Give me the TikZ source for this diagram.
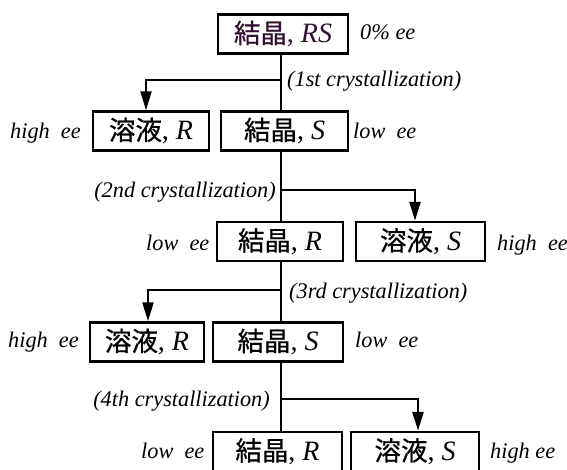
\documentclass[tikz,border=0pt]{standalone}
\usepackage{fontspec}
\setmainfont{Liberation Serif}
\newfontfamily\cjk[FakeBold=0.7]{Noto Sans CJK JP}
\usetikzlibrary{arrows.meta}
\definecolor{dpurple}{RGB}{50,15,50}
\newcommand\bxtext[2]{{\cjk\fontsize{26.5}{30}\selectfont #1}{\fontsize{28}{32}\selectfont, \textit{#2}}}
\tikzset{
  box/.style={draw, line width=2.5pt, inner sep=0pt, minimum height=39pt},
  lbl/.style={anchor=base west, inner sep=0pt, font=\fontsize{22.3}{26}\selectfont\itshape},
  lbr/.style={anchor=base east, inner sep=0pt, font=\fontsize{22.3}{26}\selectfont\itshape},
  conn/.style={line width=2.5pt},
  arr/.style={line width=2.5pt, -{Triangle[length=19pt,width=11pt]}}
}
\begin{document}
\begin{tikzpicture}[x=1pt,y=-1pt]
\useasboundingbox (0,0) rectangle (567,469);
% boxes
\node[box, minimum width=130pt, text=dpurple] (b1) at (283,34) {\bxtext{結晶}{RS}};
\node[box, minimum width=116pt] (b2l) at (151,131) {\bxtext{溶液}{R}};
\node[box, minimum width=127pt] (b2r) at (284.5,131) {\bxtext{結晶}{S}};
\node[box, minimum width=126pt] (b3l) at (280,241.5) {\bxtext{結晶}{R}};
\node[box, minimum width=129pt] (b3r) at (420.5,241.5) {\bxtext{溶液}{S}};
\node[box, minimum width=114pt] (b4l) at (147,342) {\bxtext{溶液}{R}};
\node[box, minimum width=130pt] (b4r) at (278,342) {\bxtext{結晶}{S}};
\node[box, minimum width=129pt] (b5l) at (277.5,451.5) {\bxtext{結晶}{R}};
\node[box, minimum width=128pt] (b5r) at (415,451.5) {\bxtext{溶液}{S}};
% labels
\node[lbl] (l0) at (360,39) {0\% ee};
\node[lbl] (c1) at (287,86) {(1st crystallization)};
\node[lbl] (l2a) at (10,138) {high\ \ ee};
\node[lbl] (l2b) at (353,138) {low\ \ ee};
\node[lbr] (c2) at (276,197) {(2nd crystallization)};
\node[lbl] (l3a) at (146,250) {low\ \ ee};
\node[lbl] (l3b) at (497,250) {high\ \ ee};
\node[lbl] (c3) at (289,298) {(3rd crystallization)};
\node[lbl] (l4a) at (8,347) {high\ \ ee};
\node[lbl] (l4b) at (355,347) {low\ \ ee};
\node[lbr] (c4) at (270,406) {(4th crystallization)};
\node[lbl] (l5a) at (141,458) {low\ \ ee};
\node[lbl] (l5b) at (490,458) {high ee};
% junctions
\coordinate (j1) at (281,80);
\coordinate (e1) at (146,80);
\coordinate (j2) at (281,190);
\coordinate (e2) at (415,190);
\coordinate (j3) at (281,290);
\coordinate (e3) at (148,290);
\coordinate (j4) at (281,399);
\coordinate (e4) at (418,399);
% connectors
\draw[conn] (b1.south -| j1) -- (b2r.north -| j1);
\draw[arr] (j1) -- (e1) -- (e1 |- b2l.north);
\draw[conn] (b2r.south -| j2) -- (b3l.north -| j2);
\draw[arr] (j2) -- (e2) -- (e2 |- b3r.north);
\draw[conn] (b3l.south -| j3) -- (b4r.north -| j3);
\draw[arr] (j3) -- (e3) -- (e3 |- b4l.north);
\draw[conn] (b4r.south -| j4) -- (b5l.north -| j4);
\draw[arr] (j4) -- (e4) -- (e4 |- b5r.north);
\end{tikzpicture}
\end{document}
